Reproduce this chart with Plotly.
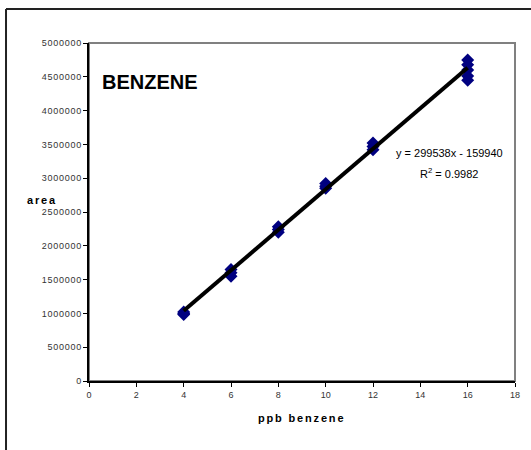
import plotly.graph_objects as go

# Data
conc_ppb = [4, 4, 4, 6, 6, 6, 8, 8, 8, 10, 10, 10, 12, 12, 12, 16, 16, 16, 16, 16]
area = [1000000, 1020000, 985000,
        1650000, 1600000, 1550000,
        2280000, 2200000, 2240000,
        2920000, 2850000, 2880000,
        3520000, 3420000, 3470000,
        4750000, 4680000, 4600000, 4510000, 4450000]

slope = 299538
intercept = -159940
r_squared = 0.9982
fit_x = [4, 16]
fit_y = [slope * x + intercept for x in fit_x]

x_ticks = list(range(0, 19, 2))
y_ticks = list(range(0, 5000001, 500000))
HAIR = "\u200a"
SIXEM = "\u2006"
y_tick_labels = [HAIR.join(str(v)) for v in y_ticks]

x_title = "ppb benzene"
y_title = "area"
chart_title = "BENZENE"

fig = go.Figure()
fig.add_trace(go.Scatter(
    x=conc_ppb, y=area, mode="markers",
    marker=dict(symbol="diamond", size=10, color="#000080",
                line=dict(width=0)),
    showlegend=False, cliponaxis=False))
fig.add_trace(go.Scatter(
    x=fit_x, y=fit_y, mode="lines",
    line=dict(color="black", width=4),
    showlegend=False))

tickfont = dict(family="Liberation Sans, Arial", size=9, color="#333333")
fig.update_xaxes(range=[0, 18], tickvals=x_ticks, ticks="outside", ticklen=4,
                 tickcolor="black", showline=True, linecolor="black", linewidth=2,
                 showgrid=False, zeroline=False, tickfont=tickfont)
fig.update_yaxes(range=[0, 5000000], tickvals=y_ticks, ticktext=y_tick_labels,
                 ticks="outside", ticklen=4, tickcolor="black", showline=True,
                 linecolor="black", linewidth=2, showgrid=False, zeroline=False,
                 tickfont=tickfont)

shapes = [
    dict(type="rect", xref="paper", yref="paper", x0=0, y0=0, x1=1, y1=1,
         line=dict(color="#808080", width=2), layer="below"),
    dict(type="line", xref="paper", yref="paper", x0=-0.1948, y0=-0.25,
         x1=-0.1948, y1=1.1006, line=dict(color="#222222", width=2)),
    dict(type="line", xref="paper", yref="paper", x0=-0.1948, y0=1.1006,
         x1=1.1, y1=1.1006, line=dict(color="#222222", width=2)),
]

tf = dict(family="Liberation Sans, Arial", color="black")
annotations = [
    dict(text=f"<b>{chart_title}</b>", x=0.46, y=4420000, xref="x", yref="y",
         xanchor="left", yanchor="middle", showarrow=False, font=dict(size=20, **tf)),
    dict(text=f"y = {slope}x - {abs(intercept)}", x=15.25, y=3370000,
         xref="x", yref="y", xanchor="center", yanchor="middle", showarrow=False,
         font=dict(size=11, **tf)),
    dict(text=f"R<sup>2</sup> = {r_squared}", x=15.2, y=3080000,
         xref="x", yref="y", xanchor="center", yanchor="middle", showarrow=False,
         font=dict(size=11, **tf)),
    dict(text="<b>" + SIXEM.join(y_title) + "</b>", x=-0.150, y=0.536,
         xref="paper", yref="paper", xanchor="left", yanchor="middle",
         showarrow=False, font=dict(size=11, **tf)),
    dict(text="<b>" + SIXEM.join(x_title) + "</b>", x=0.497, y=-0.11,
         xref="paper", yref="paper", xanchor="center", yanchor="middle",
         showarrow=False, font=dict(size=11, **tf)),
]

fig.update_layout(
    width=531, height=450,
    margin=dict(l=89, r=16, t=43, b=69),
    paper_bgcolor="white", plot_bgcolor="white",
    shapes=shapes, annotations=annotations,
    showlegend=False,
)

fig.write_html("out.html", config={"displayModeBar": False},
               post_script="document.body.style.margin='0px';document.body.style.padding='0px';")
